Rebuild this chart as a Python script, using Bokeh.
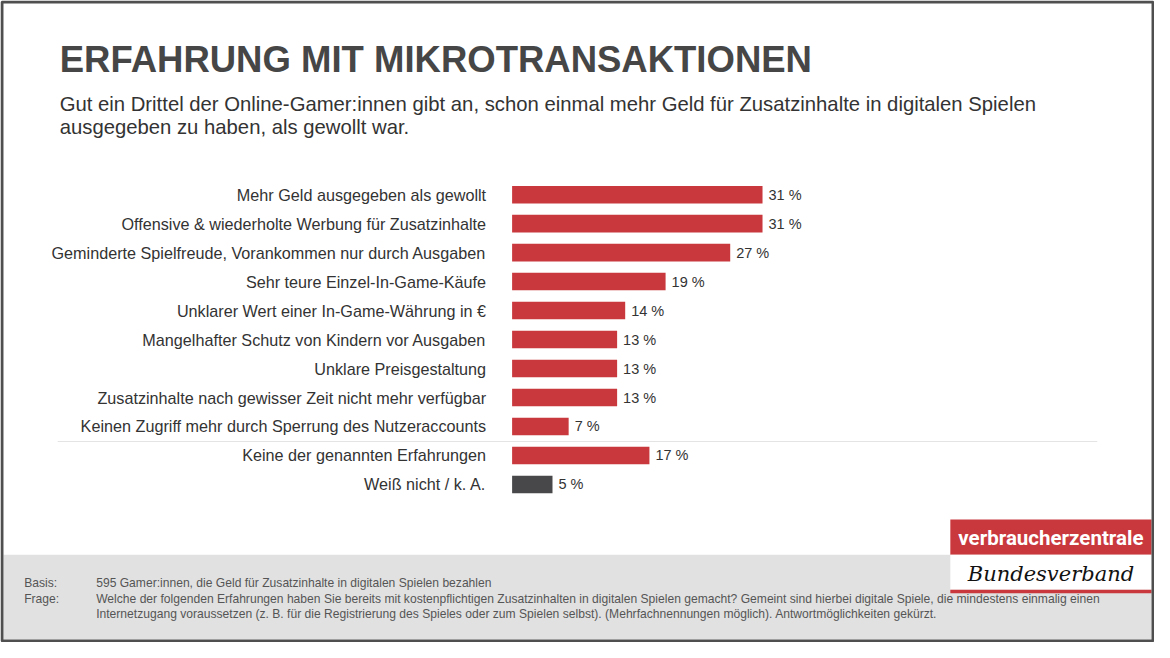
from bokeh.plotting import figure
from bokeh.models import ColumnDataSource, Range1d
from bokeh.core.properties import value
from bokeh.embed import file_html
from bokeh.resources import INLINE

# ---------------- data ----------------
categories = [
    "Mehr Geld ausgegeben als gewollt",
    "Offensive & wiederholte Werbung für Zusatzinhalte",
    "Geminderte Spielfreude, Vorankommen nur durch Ausgaben",
    "Sehr teure Einzel-In-Game-Käufe",
    "Unklarer Wert einer In-Game-Währung in €",
    "Mangelhafter Schutz von Kindern vor Ausgaben",
    "Unklare Preisgestaltung",
    "Zusatzinhalte nach gewisser Zeit nicht mehr verfügbar",
    "Keinen Zugriff mehr durch Sperrung des Nutzeraccounts",
    "Keine der genannten Erfahrungen",
    "Weiß nicht / k. A.",
]
values = [31, 31, 27, 19, 14, 13, 13, 13, 7, 17, 5]
value_labels = [f"{v} %" for v in values]

title_text = "ERFAHRUNG MIT MIKROTRANSAKTIONEN"
subtitle_lines = [
    "Gut ein Drittel der Online-Gamer:innen gibt an, schon einmal mehr Geld für Zusatzinhalte in digitalen Spielen",
    "ausgegeben zu haben, als gewollt war.",
]
footer_keys = ["Basis:", "Frage:", ""]
footer_lines = [
    "595 Gamer:innen, die Geld für Zusatzinhalte in digitalen Spielen bezahlen",
    "Welche der folgenden Erfahrungen haben Sie bereits mit kostenpflichtigen Zusatzinhalten in digitalen Spielen gemacht? Gemeint sind hierbei digitale Spiele, die mindestens einmalig einen",
    "Internetzugang voraussetzen (z. B. für die Registrierung des Spieles oder zum Spielen selbst). (Mehrfachnennungen möglich). Antwortmöglichkeiten gekürzt.",
]
logo_top = "verbraucherzentrale"
logo_bottom = "Bundesverband"

# ---------------- layout ----------------
W, H = 1154, 642
REF_W, REF_H = 1170, 658
PX_PER_PCT = 8.19
BAR_X0 = 518.7
ROW0 = 199.0
ROW_STEP = 29.7

RED = "#c9383c"
DARK = "#48484b"
TXT = "#333333"
FONT = value("Liberation Sans")

x_range = Range1d(-BAR_X0 / PX_PER_PCT, (REF_W - BAR_X0) / PX_PER_PCT)
y_range = Range1d((REF_H - ROW0) / ROW_STEP, -ROW0 / ROW_STEP)

p = figure(width=W, height=H, x_range=x_range, y_range=y_range,
           output_backend="svg", toolbar_location=None, tools="",
           min_border=0, x_axis_location=None, y_axis_location=None)
p.extra_x_ranges = {"px": Range1d(0, REF_W)}
p.extra_y_ranges = {"py": Range1d(REF_H, 0)}
p.grid.visible = False
p.outline_line_color = None
p.background_fill_color = "white"
p.border_fill_color = "white"

PX = dict(x_range_name="px", y_range_name="py")

# footer background
p.quad(left=3, right=1167, top=568, bottom=655, fill_color="#e1e1e1", line_color=None, **PX)

# logo
p.quad(left=963, right=1167, top=532, bottom=568, fill_color=RED, line_color=None, **PX)
p.quad(left=963, right=1167, top=568, bottom=604, fill_color="white", line_color=None, **PX)
p.quad(left=963, right=1167, top=604, bottom=607.5, fill_color=RED, line_color=None, **PX)
p.text(x=[1065], y=[551], text=[logo_top], text_align="center",
       text_baseline="middle", text_color="white", text_font_style="bold",
       text_font=value("Roboto"), text_font_size="20.5px", **PX)
p.text(x=[1065], y=[588], text=[logo_bottom], text_align="center",
       text_baseline="middle", text_color="#111111", text_font_style="italic",
       text_font=value("DejaVu Serif"), text_font_size="21px", **PX)

# separator line
p.line(x=[58, 1112], y=[452, 452], line_color="#e4e4e4", line_width=1, **PX)

# bars
idx = list(range(len(categories)))
colors = [DARK if c.startswith("Weiß") else RED for c in categories]
src = ColumnDataSource(dict(idx=idx, val=values, cat=categories, lab=value_labels,
                            color=colors, zero=[0] * len(values)))
p.hbar(y="idx", left=0, right="val", height=0.606, fill_color="color",
       line_color=None, source=src)

p.text(x="zero", y="idx", text="cat", source=src, x_offset=-26,
       text_align="right", text_baseline="middle", text_color=TXT,
       text_font=FONT, text_font_size="16.2px")
p.text(x="val", y="idx", text="lab", source=src, x_offset=6,
       text_align="left", text_baseline="middle", text_color=TXT,
       text_font=FONT, text_font_size="14.5px")

# title & subtitle
p.text(x=[60], y=[60.5], text=[title_text], text_baseline="middle",
       text_color="#464646", text_font_style="bold", text_font=FONT,
       text_font_size="36.5px", **PX)
p.text(x=[60, 60], y=[106, 130], text=subtitle_lines, text_baseline="middle",
       text_color=TXT, text_font=FONT, text_font_size="20.3px", **PX)

# footer text
fy = [597.5, 613, 629]
p.text(x=[24] * 3, y=fy, text=footer_keys, text_baseline="middle",
       text_color="#555555", text_font=FONT, text_font_size="12.1px", **PX)
p.text(x=[97] * 3, y=fy, text=footer_lines, text_baseline="middle",
       text_color="#555555", text_font=FONT, text_font_size="12.1px", **PX)

# outer border
p.quad(left=1.5, right=1168.5, top=1.5, bottom=656.5, fill_color=None,
       line_color="#4f4f4f", line_width=3, **PX)

open("out.html", "w").write(file_html(p, INLINE))
